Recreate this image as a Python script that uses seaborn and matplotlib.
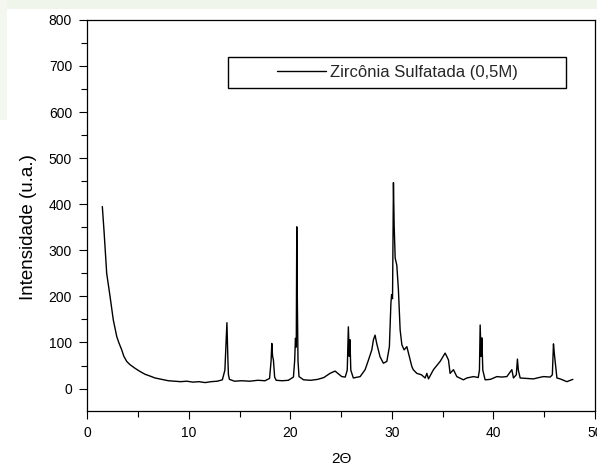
import matplotlib
matplotlib.use("Agg")
import matplotlib.pyplot as plt
from matplotlib.patches import Rectangle
from matplotlib.ticker import MultipleLocator
import seaborn as sns

# ---- data ----
two_theta = [1.48, 1.65, 1.91, 2.24, 2.56, 2.9, 3.1, 3.39, 3.6, 3.88, 4.2, 4.7, 5.2, 5.69, 6.2,
             6.67, 7.3, 7.98, 8.6, 9.2, 9.8, 10.4, 11.0, 11.6, 12.2, 12.8, 13.3, 13.55, 13.75, 13.85,
             13.9, 14.0, 14.5, 15.2, 16.0, 16.8, 17.5, 17.95, 18.1, 18.17, 18.25, 18.33, 18.45, 18.6,
             19.2, 19.8, 20.3, 20.42, 20.5, 20.58, 20.63, 20.68, 20.75, 20.85, 21.3, 22.0, 22.7, 23.3,
             23.9, 24.4, 24.73, 25.06, 25.4, 25.6, 25.71, 25.8, 25.87, 25.95, 26.2, 26.87, 27.36, 27.69,
             28.02, 28.18, 28.34, 28.5, 28.83, 29.16, 29.5, 29.75, 29.9, 29.97, 30.06, 30.15, 30.22,
             30.32, 30.48, 30.64, 30.81, 30.98, 31.2, 31.47, 31.63, 31.96, 32.1, 32.45, 32.9, 33.27,
             33.44, 33.6, 34.09, 34.75, 35.24, 35.4, 35.57, 35.73, 36.06, 36.39, 37.04, 37.38, 38.03,
             38.5, 38.62, 38.69, 38.78, 38.86, 38.95, 39.18, 39.7, 40.34, 40.8, 41.32, 41.81, 41.97,
             42.25, 42.36, 42.45, 42.63, 43.3, 43.94, 44.5, 44.93, 45.59, 45.8, 45.91, 46.0, 46.08,
             46.25, 46.57, 47.23, 47.82]
intensity = [395, 341, 250, 200, 149, 113, 100, 84, 70, 59, 52, 44, 37, 31, 27,
             23, 20, 17, 16, 15, 16, 14, 15, 13, 15, 16, 19, 40, 143, 60,
             30, 20, 16, 17, 16, 18, 17, 22, 60, 98, 70, 62, 25, 18,
             17, 18, 25, 60, 109, 90, 351, 203, 60, 26, 19, 18, 20, 24,
             33, 38, 32, 26, 25, 40, 134, 70, 106, 40, 23, 26, 41, 62,
             84, 106, 116, 98, 69, 55, 59, 91, 185, 204, 195, 447, 355,
             283, 268, 214, 127, 95, 84, 91, 77, 48, 41, 33, 30, 23,
             33, 21, 41, 59, 77, 70, 62, 33, 41, 26, 19, 23, 26,
             24, 40, 138, 70, 110, 40, 19, 20, 26, 25, 26, 41, 23,
             30, 64, 40, 23, 22, 21, 24, 26, 25, 30, 97, 75, 59,
             23, 21, 15, 20]
series_label = "Zircônia Sulfatada (0,5M)"
x_label = "2Θ"
y_label = "Intensidade (u.a.)"
x_ticks = [0, 10, 20, 30, 40, 50]
y_ticks = [0, 100, 200, 300, 400, 500, 600, 700, 800]

assert len(two_theta) == len(intensity)

sns.set_theme(style="ticks")
plt.rcParams["font.family"] = ["Liberation Sans", "DejaVu Sans"]

fig = plt.figure(figsize=(5.97, 4.65), dpi=100, facecolor="white")
# pale green page border seen at the top/left of the reference
fig.patches.append(Rectangle((0, 1 - 9 / 465), 1, 9 / 465, transform=fig.transFigure,
                             facecolor="#f0f5eb", edgecolor="none", zorder=-10))
fig.patches.append(Rectangle((0, 1 - 120 / 465), 7 / 597, 120 / 465, transform=fig.transFigure,
                             facecolor="#f3f7ef", edgecolor="none", zorder=-10))

ax = fig.add_axes([87.3 / 597, 1 - 410.7 / 465, (595 - 87.3) / 597, (410.7 - 19.9) / 465])
ax.set_facecolor("white")

sns.lineplot(x=two_theta, y=intensity, ax=ax, color="black", linewidth=1.0,
             label=series_label, sort=False, estimator=None)

ax.set_xlim(0, 50)
ax.set_ylim(-48, 800)
ax.set_xticks(x_ticks)
ax.set_yticks(y_ticks)
ax.xaxis.set_minor_locator(MultipleLocator(5))
ax.yaxis.set_minor_locator(MultipleLocator(50))
ax.tick_params(axis="both", which="major", direction="out", length=6, width=0.8,
               labelsize=10, pad=5, colors="black")
ax.tick_params(axis="both", which="minor", direction="out", length=4, width=0.8, colors="black")
ax.tick_params(axis="x", which="both", top=False, bottom=True)
ax.tick_params(axis="y", which="both", right=False, left=True)

for s in ax.spines.values():
    s.set_visible(True)
    s.set_color("black")
    s.set_linewidth(0.9)

ax.set_xlabel(x_label, fontsize=11, labelpad=9, color="black")
ax.set_ylabel(y_label, fontsize=13.5, color="black")
ax.yaxis.set_label_coords(-0.099, 0.471)

# legend frame box as in the reference
ax.add_patch(Rectangle((0.2777, 0.8265), 0.666, 0.0793, transform=ax.transAxes,
                       fill=False, edgecolor="black", linewidth=1.0, zorder=5))
leg = ax.legend(loc="center", bbox_to_anchor=(0.611, 0.866), frameon=False,
                fontsize=12, handlelength=2.9, handletextpad=0.25, borderpad=0)
for line in leg.get_lines():
    line.set_linewidth(1.0)

fig.savefig("out.png", dpi=100, facecolor=fig.get_facecolor())
